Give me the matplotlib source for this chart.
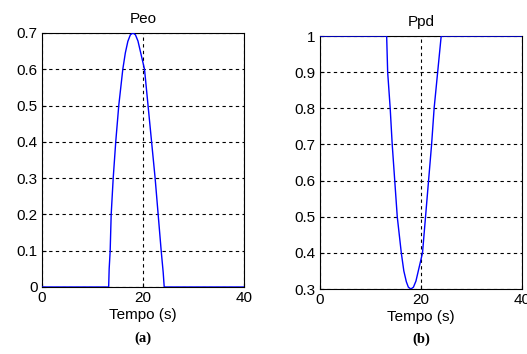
import matplotlib.pyplot as plt

plt.rcParams['font.family'] = ['Liberation Sans', 'DejaVu Sans']

# Peo curve
t_peo = [0, 13.2, 13.3, 13.5, 13.7, 14.1, 14.6, 15.2, 16.0, 16.5, 17.0, 17.5, 18.0,
         18.5, 19.0, 19.5, 20.3, 21.0, 21.7, 22.4, 23.0, 23.6, 24.0, 24.2, 40]
peo = [0, 0, 0.05, 0.1, 0.2, 0.3, 0.4, 0.5, 0.6, 0.645, 0.677, 0.695, 0.70,
       0.695, 0.678, 0.648, 0.6, 0.5, 0.4, 0.3, 0.2, 0.1, 0.04, 0, 0]

# Ppd curve
t_ppd = [0, 13.2, 13.4, 13.9, 14.3, 14.8, 15.3, 16.1, 16.6, 17.1, 17.5, 18.0,
         18.5, 19.0, 19.5, 20.3, 20.9, 21.5, 22.1, 22.6, 23.3, 24.0, 40]
ppd = [1, 1, 0.9, 0.8, 0.7, 0.6, 0.5, 0.4, 0.35, 0.32, 0.305, 0.30,
       0.305, 0.322, 0.352, 0.4, 0.5, 0.6, 0.7, 0.8, 0.9, 1, 1]

xticks = [0, 20, 40]
peo_ticks = [0, 0.1, 0.2, 0.3, 0.4, 0.5, 0.6, 0.7]
ppd_ticks = [0.3, 0.4, 0.5, 0.6, 0.7, 0.8, 0.9, 1]


def panel(ax, t, y, title, yticks, ylim, tag):
    ax.plot(t, y, color='#0000ff', lw=1.0, zorder=3)
    ax.set_xlim(0, 40)
    ax.set_ylim(*ylim)
    ax.set_xticks(xticks)
    ax.set_yticks(yticks)
    ax.set_yticklabels(['%g' % v for v in yticks])
    ax.grid(True, color='black', ls=(0, (3, 3)), lw=0.8)
    ax.tick_params(direction='in', labelsize=11, length=3, pad=3)
    ax.set_title(title, fontsize=11, pad=7)
    ax.set_xlabel('Tempo (s)', fontsize=11, labelpad=2)
    for s in ax.spines.values():
        s.set_linewidth(0.8)
    ax.text(0.5, -0.2, tag, transform=ax.transAxes, ha='center', va='center',
            fontsize=10.5, fontweight='bold', family='Liberation Serif')


fig = plt.figure(figsize=(5.27, 3.54), dpi=100)
ax1 = fig.add_axes([0.0797, 0.1893, 0.3833, 0.7175])
ax2 = fig.add_axes([0.6072, 0.1836, 0.3833, 0.7147])

panel(ax1, t_peo, peo, 'Peo', peo_ticks, (0, 0.7), '(a)')
panel(ax2, t_ppd, ppd, 'Ppd', ppd_ticks, (0.3, 1), '(b)')

fig.savefig('out.png', dpi=100)
